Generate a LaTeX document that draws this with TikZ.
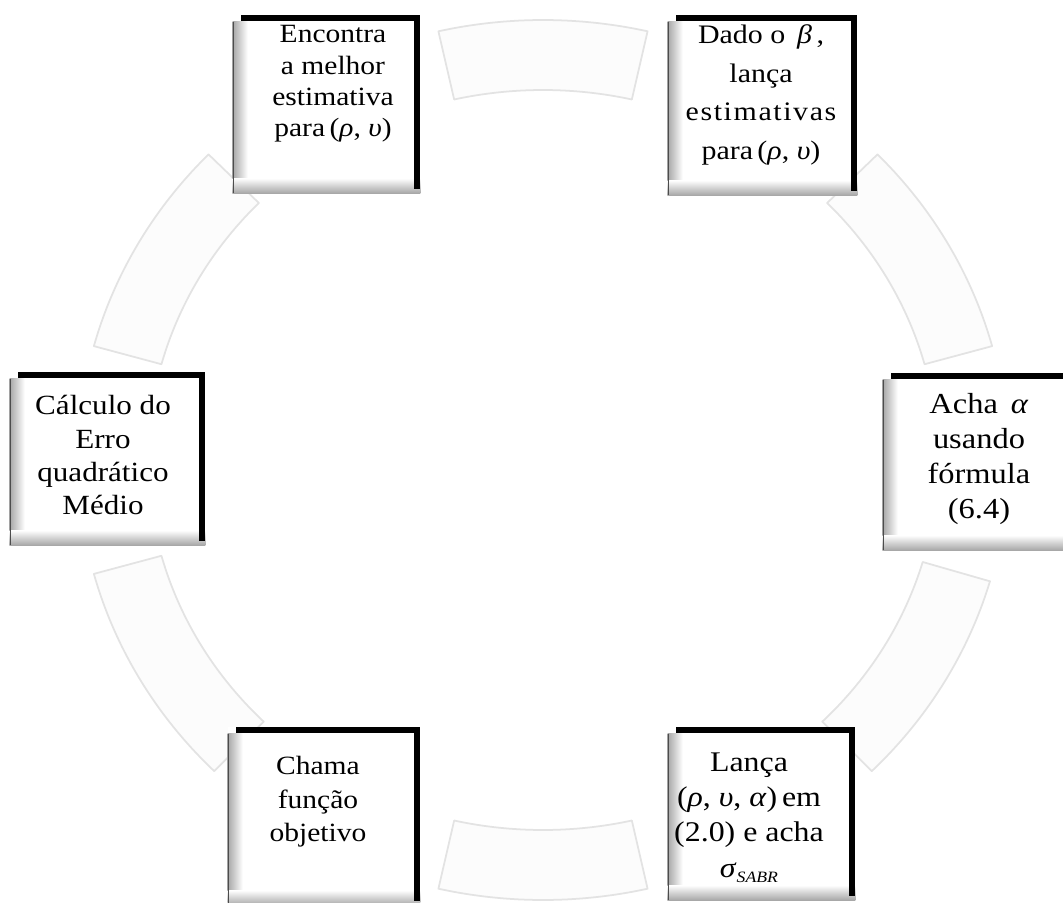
\documentclass[tikz,border=0pt]{standalone}
\usepackage{fontspec}
\setmainfont{Liberation Serif}[FakeStretch=1.12]
\usetikzlibrary{calc}

% Greek letters set in the italic of the text font
\newcommand{\gk}[1]{\textit{#1}}

% faint block arc of the cycle, between two angles on the ring
\newcommand{\ringseg}[2]{%
  \path[arcband]
    plot[domain=#1:#2, samples=40] ({543+465*cos(\x)},{460-440*sin(\x)})
    -- plot[domain=#2:#1, samples=40] ({543+395*cos(\x)},{460-370*sin(\x)})
    -- cycle;}

% shading on the left and bottom, heavy black bars on top and right
\newcommand{\decobox}[1]{%
  \shade[left color=gray!70, right color=white]
    ($(#1.north west)+(0,7)$) rectangle ($(#1.south west)+(15,0)$);
  \shade[top color=white, bottom color=gray!70]
    ($(#1.south west)+(0,-15)$) rectangle (#1.south east);
  \draw[black!70, line width=0.8pt]
    ($(#1.north west)+(0.6,7)$) -- ($(#1.south west)+(0.6,0)$);
  \fill[black] ($(#1.north west)+(8,0)$) rectangle ($(#1.north east)+(0,6)$);
  \fill[black] ($(#1.north east)+(-6,0)$) rectangle ($(#1.south east)+(0,-4)$);}

\begin{document}
\begin{tikzpicture}[x=0.02cm, y=-0.02cm,
  cyclebox/.style={rectangle, inner sep=0pt, fill=white},
  boxtext/.style={align=center, inner sep=0pt, text=black},
  arcband/.style={fill=gray!2, draw=gray!22, line width=1pt, line join=round}]
\useasboundingbox (0,0) rectangle (1063,903);

% arcs of the cycle
\ringseg{77}{103}
\ringseg{15}{44}
\ringseg{-45}{-16}
\ringseg{-103}{-77}
\ringseg{195}{225}
\ringseg{136}{165}

% boxes
\node[cyclebox, minimum width=3.74cm, minimum height=3.56cm] (b1) at (326.5,104) {};
\node[cyclebox, minimum width=3.78cm, minimum height=3.60cm] (b2) at (762.5,105) {};
\node[cyclebox, minimum width=3.90cm, minimum height=3.46cm] (b3) at (107.5,458.5) {};
\node[cyclebox, minimum width=3.74cm, minimum height=3.54cm] (b4) at (976.5,461.5) {};
\node[cyclebox, minimum width=3.84cm, minimum height=3.56cm] (b5) at (324,816) {};
\node[cyclebox, minimum width=3.74cm, minimum height=3.46cm] (b6) at (761.5,813.5) {};
\foreach \b in {b1,b2,b3,b4,b5,b6} {\decobox{\b}}

% texts
\node[boxtext, font=\fontsize{15}{17.8}\selectfont] (t1) at (333,84)
  {Encontra\\a melhor\\estimativa\\para\,(\gk{ρ}, \gk{υ})};
\node[boxtext, font=\fontsize{15.2}{22}\selectfont] (t2) at (761,95)
  {Dado o \,\gk{β}\,,\\lança\\{\addfontfeature{LetterSpace=6}estimativas}\\para\,(\gk{ρ}, \gk{υ})};
\node[boxtext, font=\fontsize{15.8}{18.8}\selectfont] (t3) at (103,455)
  {Cálculo do\\Erro\\quadrático\\Médio};
\node[boxtext, font=\fontsize{16.5}{19.8}\selectfont] (t4) at (979,459)
  {Acha \,\gk{α}\\usando\\fórmula\\(6.4)};
\node[boxtext, font=\fontsize{15}{19}\selectfont] (t5) at (318,802)
  {Chama\\função\\objetivo};
\node[boxtext, font=\fontsize{16.2}{20}\selectfont] (t6) at (749,818)
  {Lança\\(\gk{ρ}, \gk{υ}, \gk{α})\,em\\(2.0) e acha\\
   \gk{σ}\raisebox{-0.45ex}{\fontsize{9}{10}\selectfont\gk{SABR}}};
\end{tikzpicture}
\end{document}
